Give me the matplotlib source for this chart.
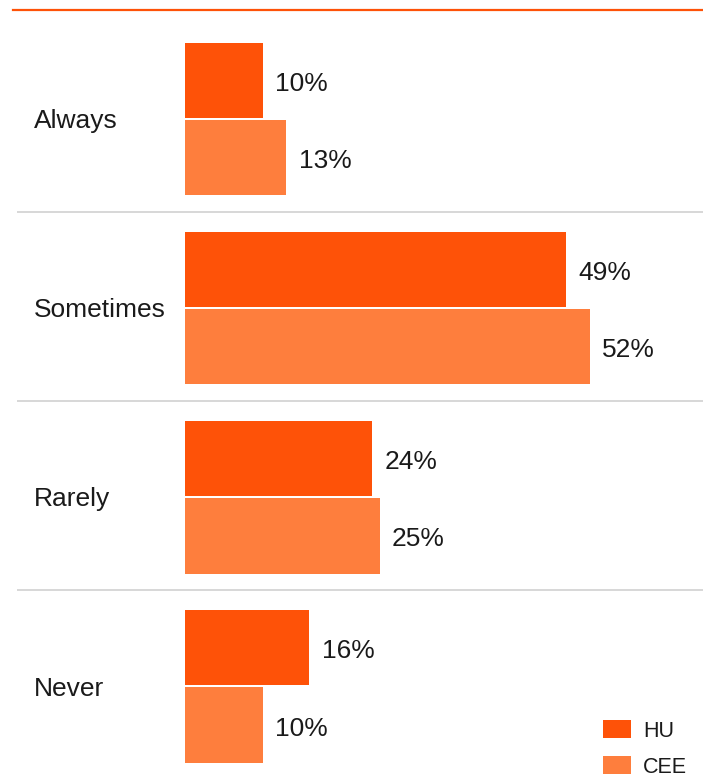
import matplotlib.pyplot as plt
from matplotlib.lines import Line2D
import numpy as np

plt.rcParams['font.family'] = ['Liberation Sans', 'DejaVu Sans']

categories = ['Always', 'Sometimes', 'Rarely', 'Never']
hu = [10, 49, 24, 16]
cee = [13, 52, 25, 10]
series_names = ['HU', 'CEE']

c_hu = '#fe5208'
c_cee = '#fe7e3d'

W, H = 703, 779
fig = plt.figure(figsize=(W / 100, H / 100), dpi=100)

# axes: left edge at the separators, top at first band
left, top = 17, 22.5
ax = fig.add_axes([left / W, 0, (W - left) / W, (H - top) / H])

scale = 7.78  # px per percent
x0 = 185
ax.set_xlim(-(x0 - left) / scale, (W - x0) / scale)
ax.set_ylim(len(categories) - 0.5, -0.5)

y = np.arange(len(categories)) + 0.01
off, h = 0.205, 0.398
b1 = ax.barh(y - off, hu, height=h, color=c_hu, label=series_names[0])
b2 = ax.barh(y + off, cee, height=h, color=c_cee, label=series_names[1])

for bars, vals in ((b1, hu), (b2, cee)):
    for bar, v in zip(bars, vals):
        ax.annotate(f'{v}%', (bar.get_width(), bar.get_y() + bar.get_height() / 2),
                    xytext=(9, -2.5), textcoords='offset points',
                    ha='left', va='center', fontsize=19, color='#1a1a1a')

for i, cat in enumerate(categories):
    ax.annotate(cat, (-(x0 - 34) / scale, i), xytext=(0, -3),
                textcoords='offset points', ha='left', va='center',
                fontsize=19, color='#1a1a1a')

for s in [0.5, 1.5, 2.5]:
    ax.axhline(s, color='#d4d4d4', lw=1.3, zorder=0)

ax.axis('off')

# orange rule at the top
fig.add_artist(Line2D([13 / W, 1], [1 - 10 / H, 1 - 10 / H],
                      transform=fig.transFigure, color=c_hu, lw=1.6))

ax.legend(loc='upper left', bbox_to_anchor=(603 / W, 1 - 720 / H),
          bbox_transform=fig.transFigure, frameon=False, fontsize=15.5,
          handlelength=1.3, handleheight=0.93, handletextpad=0.55,
          labelspacing=0.68, borderpad=0, borderaxespad=0,
          labelcolor='#1a1a1a')

fig.savefig('out.png', dpi=100)
